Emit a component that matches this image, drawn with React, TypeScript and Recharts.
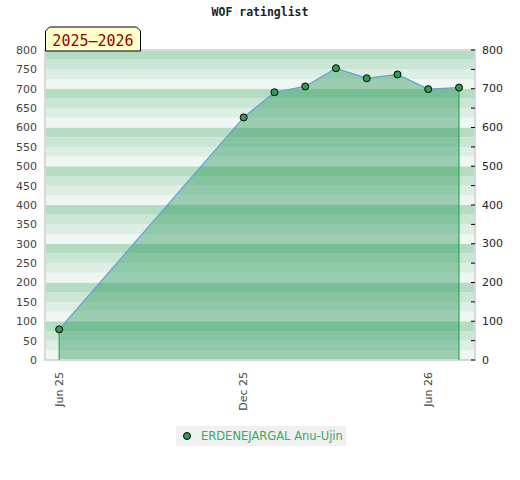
import React from "react";
import {
  ComposedChart, Area, XAxis, YAxis, ReferenceArea, ReferenceLine,
} from "recharts";

// months counted from Jun 2025
const months = [0, 6, 7, 8, 9, 10, 11, 12, 13];
const ratings = [79, 626, 691, 706, 753, 727, 737, 699, 703];
const xTicks = [0, 6, 12];
const xTickLabels = ["Jun 25", "Dec 25", "Jun 26"];
const yTicks = [0, 50, 100, 150, 200, 250, 300, 350, 400, 450, 500, 550, 600, 650, 700, 750, 800];
const playerName = "ERDENEJARGAL Anu-Ujin";
const seasonLabel = "2025–2026";
const title = "WOF ratinglist";

const data = months.map((m, i) => ({ m, rating: ratings[i] }));

const stripeColors = ["#eef7f1", "#ddeee4", "#cce6d6", "#b3dcc2"];
const stripes = [] as { y1: number; y2: number; fill: string }[];
for (let v = 0; v < 800; v += 25) {
  stripes.push({ y1: v, y2: v + 25, fill: stripeColors[(v / 25) % 4] });
}

const XTick = (props: any) => {
  const { x, y, payload } = props;
  const idx = xTicks.indexOf(payload.value);
  const ty = y + 4;
  return (
    <text
      x={x}
      y={ty}
      transform={`rotate(-90 ${x} ${ty})`}
      textAnchor="end"
      dominantBaseline="central"
      fontSize={11}
      fill="#444"
      fontFamily="DejaVu Sans"
    >
      {idx >= 0 ? xTickLabels[idx] : ""}
    </text>
  );
};

// right axis: short tick pointing into the plot, label only every 100
const RightTick = (props: any) => {
  const { x, y, payload } = props;
  const v = payload.value as number;
  const edge = x - 8;
  return (
    <g>
      <line x1={edge - 4} x2={edge} y1={y} y2={y} stroke="#000" strokeWidth={1} />
      {v % 100 === 0 && (
        <text x={edge + 7} y={y} dominantBaseline="central" fontSize={11} fill="#222" fontFamily="DejaVu Sans">
          {v}
        </text>
      )}
    </g>
  );
};

const first = data[0];
const last = data[data.length - 1];

export default function App() {
  return (
    <div style={{ position: "absolute", left: 0, top: 0, width: 520, height: 480, background: "#fff" }}>
      <div
        style={{
          position: "absolute", left: 0, top: 5, width: 520, textAlign: "center",
          fontFamily: "DejaVu Sans Mono", fontWeight: "bold", fontSize: 11.5, color: "#222",
        }}
      >
        {title}
      </div>
      <ComposedChart
        width={520}
        height={480}
        data={data}
        margin={{ top: 50, right: 0, bottom: 70, left: 0 }}
        style={{ fontFamily: "DejaVu Sans" }}
      >
        {stripes.map((s) => (
          <ReferenceArea
            key={s.y1}
            yAxisId="left"
            y1={s.y1}
            y2={s.y2}
            fill={s.fill}
            fillOpacity={1}
            stroke="none"
            ifOverflow="hidden"
            zIndex={-50}
          />
        ))}
        <XAxis
          dataKey="m"
          type="number"
          domain={[-0.46, 13.52]}
          ticks={xTicks}
          interval={0}
          tick={<XTick />}
          tickLine={false}
          axisLine={false}
          height={50}
          allowDataOverflow
        />
        <YAxis
          yAxisId="left"
          orientation="left"
          domain={[0, 800]}
          ticks={yTicks}
          interval={0}
          width={45}
          tickLine={false}
          axisLine={false}
          tick={{ fontSize: 11, fill: "#444" }}
        />
        <YAxis
          yAxisId="right"
          orientation="right"
          domain={[0, 800]}
          ticks={yTicks}
          interval={0}
          width={45}
          tickLine={false}
          axisLine={false}
          tick={<RightTick />}
        />
        <Area
          yAxisId="left"
          type="linear"
          dataKey="rating"
          stroke="#5aa5d8"
          strokeWidth={1.2}
          fill="#1e9150"
          fillOpacity={0.4}
          dot={{ r: 3.5, fill: "#2e9e55", stroke: "#000", strokeWidth: 1, fillOpacity: 1 }}
          activeDot={false}
          isAnimationActive={false}
        />
        <Area
          yAxisId="right"
          type="linear"
          dataKey="rating"
          stroke="none"
          fill="none"
          dot={false}
          activeDot={false}
          legendType="none"
          isAnimationActive={false}
        />
        <ReferenceLine
          yAxisId="left"
          segment={[{ x: first.m, y: 0 }, { x: first.m, y: first.rating }]}
          stroke="#33aa55"
          strokeWidth={1.2}
        />
        <ReferenceLine
          yAxisId="left"
          segment={[{ x: last.m, y: 0 }, { x: last.m, y: last.rating }]}
          stroke="#33aa55"
          strokeWidth={1.2}
        />
        <ReferenceArea
          yAxisId="right"
          y1={0}
          y2={800}
          fill="none"
          stroke="#d8d8d8"
          strokeWidth={2}
        />
      </ComposedChart>
      <svg
        width={98}
        height={26}
        style={{ position: "absolute", left: 44, top: 26 }}
      >
        <polygon
          points="1.5,25 1.5,5 5.5,1 92.5,1 96.5,5 96.5,25"
          fill="#ffffcc"
          stroke="#000"
          strokeWidth={1}
        />
        <text x={49} y={19.5} textAnchor="middle" fontFamily="DejaVu Sans Mono" fontSize={15} fill="#990000">
          {seasonLabel}
        </text>
      </svg>
      <div
        style={{
          position: "absolute", left: 176, top: 426, width: 170, height: 20,
          background: "#f0f0f0", display: "flex", alignItems: "center",
          fontFamily: "DejaVu Sans", fontSize: 11.5, color: "#3aaa5f",
        }}
      >
        <svg width={24} height={20}>
          <circle cx={11} cy={10} r={3.5} fill="#2e9e55" stroke="#000" strokeWidth={1} />
        </svg>
        <span style={{ marginLeft: 1 }}>{playerName}</span>
      </div>
    </div>
  );
}
